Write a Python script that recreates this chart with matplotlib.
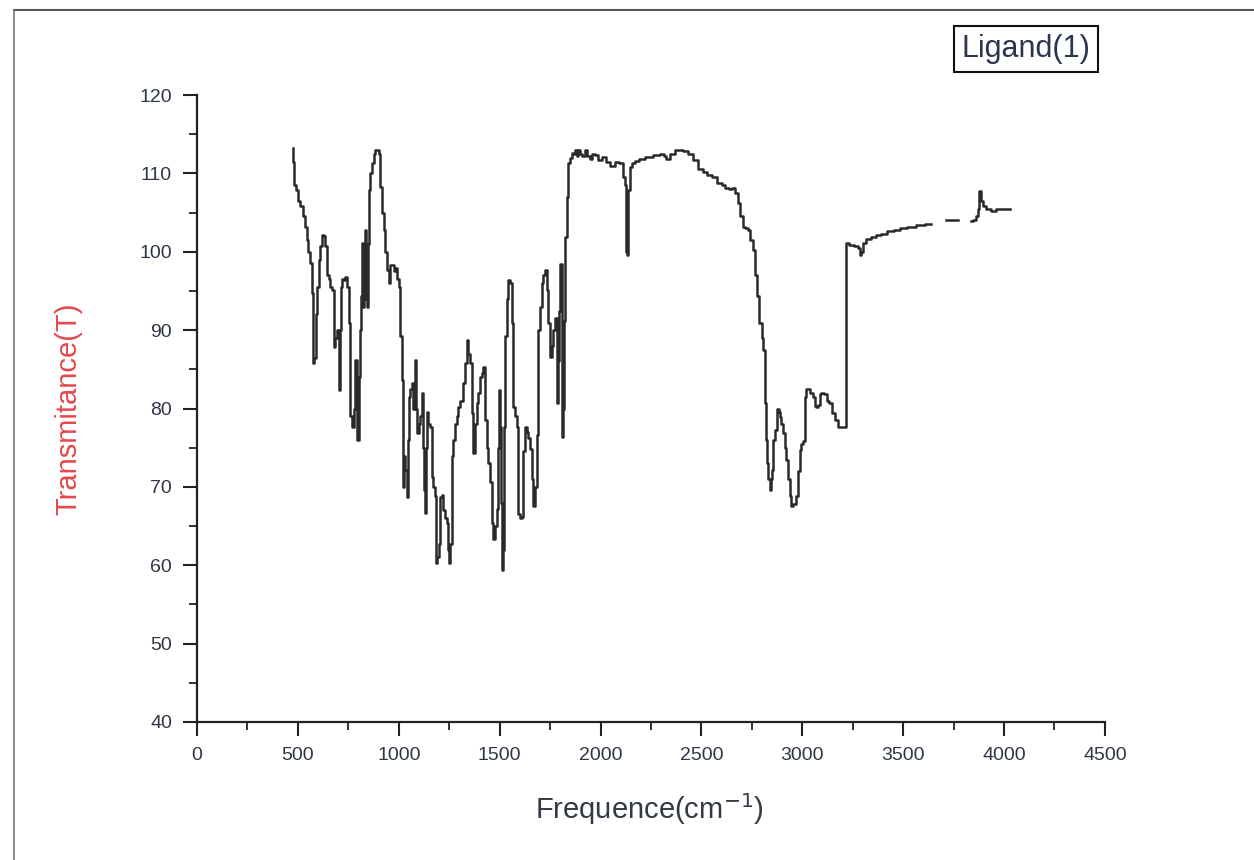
import numpy as np
import matplotlib
matplotlib.use("Agg")
import matplotlib.pyplot as plt
from matplotlib.lines import Line2D
from matplotlib.ticker import MultipleLocator

plt.rcParams['font.family'] = ['Liberation Sans', 'DejaVu Sans']

# IR spectrum of Ligand(1)
# (NaN = faded gaps in the scan near 3700 cm-1)
wavenumber = [
    475, 478, 485, 492, 505, 516, 530, 541, 549, 556, 566, 574, 576, 585, 590, 599,
    607, 615, 623, 632, 640, 648, 656, 665, 673, 681, 690, 698, 706, 710, 715, 723,
    731, 739, 747, 755, 764, 772, 780, 789, 797, 805, 810, 813, 822, 826, 830, 838,
    842, 846, 850, 855, 863, 871, 880, 888, 896, 904, 912, 920, 929, 937, 946, 954,
    962, 970, 978, 987, 995, 1003, 1011, 1020, 1022, 1030, 1036, 1044, 1048, 1053,
    1061, 1069, 1077, 1085, 1090, 1094, 1102, 1110, 1118, 1122, 1127, 1135, 1139,
    1143, 1151, 1160, 1168, 1176, 1184, 1186, 1193, 1201, 1209, 1217, 1225, 1233,
    1242, 1246, 1250, 1258, 1267, 1275, 1283, 1292, 1300, 1312, 1324, 1332, 1341,
    1349, 1357, 1366, 1374, 1382, 1390, 1399, 1407, 1415, 1423, 1432, 1440, 1448,
    1456, 1465, 1473, 1481, 1489, 1494, 1498, 1506, 1510, 1514, 1518, 1522, 1531,
    1539, 1547, 1556, 1564, 1572, 1580, 1589, 1597, 1605, 1613, 1622, 1630, 1638,
    1646, 1654, 1663, 1671, 1679, 1688, 1696, 1704, 1713, 1721, 1729, 1737, 1746,
    1754, 1762, 1770, 1779, 1787, 1791, 1795, 1803, 1812, 1816, 1820, 1828, 1836,
    1845, 1853, 1861, 1870, 1878, 1886, 1895, 1903, 1915, 1927, 1940, 1952, 1965,
    1977, 1995, 2018, 2035, 2059, 2080, 2100, 2109, 2117, 2124, 2128, 2132, 2136,
    2141, 2150, 2158, 2180, 2199, 2240, 2282, 2307, 2320, 2331, 2360, 2380, 2397,
    2420, 2447, 2470, 2496, 2520, 2540, 2562, 2590, 2610, 2628, 2645, 2661, 2675,
    2686, 2700, 2711, 2725, 2735, 2748, 2760, 2770, 2777, 2793, 2805, 2810, 2818,
    2822, 2826, 2835, 2843, 2847, 2851, 2860, 2868, 2879, 2886, 2892, 2900, 2909,
    2917, 2925, 2933, 2942, 2950, 2960, 2975, 2985, 2991, 3000, 3008, 3016, 3025,
    3033, 3045, 3058, 3066, 3074, 3082, 3090, 3100, 3115, 3128, 3140, 3156, 3170,
    3189, 3214, 3219, 3240, 3272, 3282, 3288, 3296, 3305, 3330, 3354, 3380, 3404,
    3437, 3469, 3500, 3540, 3585, 3634, 3640, 3712, 3717, 3767, 3772, 3836, 3841,
    3855, 3866, 3874, 3882, 3890, 3899, 3920, 3948, 3970, 3990, 4031,
]
transmittance = [
    113.2, 111.5, 108.5, 107.9, 106.5, 105.8, 104.5, 103.2, 101.5, 100.0, 98.6, 94.7,
    85.8, 86.5, 92, 95.5, 99, 100.7, 102.1, 102.0, 100.7, 97, 96.5, 95.5, 95.1, 87.9,
    89, 90, 82.4, 90, 95.5, 96.5, 96.4, 96.8, 95.5, 90.9, 79, 77.6, 80, 86.2, 76, 84,
    90, 94.3, 101.1, 93, 99, 102.8, 94, 93, 101, 107.9, 110, 111.3, 112.5, 113, 113,
    112.5, 108.3, 105, 102.8, 100, 97.7, 96, 98.3, 98.3, 97.5, 97.9, 96.5, 95.5, 89.2,
    83.6, 70, 74, 72.2, 68.7, 76, 81.5, 82.5, 83.2, 80, 86.2, 80, 76.9, 78, 79, 82, 75,
    69.6, 66.7, 75, 79.6, 78, 77.6, 71.3, 70, 68.8, 60.3, 61, 62.7, 68.7, 69, 67, 66,
    65.4, 62, 60.3, 62.7, 73.9, 76, 78, 79, 80.2, 81, 83.2, 85.8, 88.8, 87, 85.8, 79.4,
    74.3, 78, 80.7, 82, 84, 84.5, 85.3, 78.5, 75, 73, 70.6, 65.4, 63.3, 65, 67.2, 75,
    82.4, 77.6, 68, 59.4, 62, 77.6, 89.2, 94, 96.4, 96, 90.9, 80.2, 79, 77.6, 66.6, 66,
    66.2, 74.6, 77.6, 77, 76.2, 74.8, 71, 67.5, 70, 76.6, 90, 93, 96, 97, 97.7, 95.1,
    90.9, 86.6, 88, 90, 91.6, 80.7, 86, 92.5, 98.5, 76.4, 80, 91.2, 101.9, 107, 111.3,
    112, 112.6, 112.5, 113, 112.2, 113, 112.5, 112.2, 113, 112.2, 111.9, 112.5, 112.3,
    111.7, 112.1, 111.5, 110.9, 111.5, 111.3, 111.3, 109.6, 108.5, 100, 99.6, 104,
    107.9, 110.8, 111.3, 111.6, 111.9, 112.1, 112.3, 112.5, 112.2, 111.9, 112.5, 113,
    113, 112.8, 112.5, 111.7, 110.6, 110.2, 109.8, 109.6, 108.8, 108.5, 108.1, 108.0,
    108.1, 107.5, 106.2, 104.5, 103.2, 103, 102.8, 101.5, 100.2, 97, 94.3, 90.9, 89,
    87.5, 80.7, 76, 73, 71, 69.6, 71, 72.2, 76, 77.3, 80, 79.5, 78.9, 78, 76.9, 75,
    73.4, 71, 68.8, 67.5, 67.8, 68.8, 72, 74.7, 75.5, 75.9, 81.5, 82.5, 82.5, 82, 81.5,
    80.3, 80.2, 80.5, 81.9, 82, 81.9, 81, 80.7, 79.4, 78.5, 77.7, 77.7, 101.1, 100.9,
    100.7, 100.5, 99.6, 100, 101.1, 101.6, 101.9, 102.2, 102.3, 102.6, 102.8, 103.0,
    103.2, 103.4, 103.5, np.nan, np.nan, 104.1, 104.1, np.nan, np.nan, 103.9,
    104.1, 104.6, 105.5, 107.7, 106.5, 105.8, 105.4, 105.2, 105.4, 105.5, 105.5,
]

x_ticks = [0, 500, 1000, 1500, 2000, 2500, 3000, 3500, 4000, 4500]
y_ticks = [40, 50, 60, 70, 80, 90, 100, 110, 120]

fig = plt.figure(figsize=(12.54, 8.6), dpi=100)
ax = fig.add_axes([0.1571, 0.1605, 0.7240, 0.7290])

# scanned trace looks stair-stepped
ax.plot(wavenumber, transmittance, color='#2a2a2a', lw=1.8, drawstyle='steps-mid')

ax.set_xlim(0, 4500)
ax.set_ylim(40, 120)
ax.set_xticks(x_ticks)
ax.set_yticks(y_ticks)
ax.xaxis.set_minor_locator(MultipleLocator(250))
ax.yaxis.set_minor_locator(MultipleLocator(5))

for side in ['top', 'right']:
    ax.spines[side].set_visible(False)
for side in ['left', 'bottom']:
    ax.spines[side].set_linewidth(1.6)
    ax.spines[side].set_color('#222222')

tick_color = '#2f3745'
ax.tick_params(which='major', direction='out', length=10, width=1.5, color='#222222',
               labelsize=14, labelcolor=tick_color)
ax.tick_params(which='minor', direction='out', length=6, width=1.3, color='#222222')
ax.tick_params(axis='x', which='major', pad=8)
ax.tick_params(axis='y', which='major', pad=8)

ax.set_ylabel('Transmitance(T)', fontsize=21, color='#e5484d')
ax.yaxis.set_label_coords(-0.126, 0.5)
ax.set_xlabel('Frequence(cm$^{-1}$)', fontsize=21, color='#333a45')
ax.xaxis.set_label_coords(0.498, -0.110)

fig.text(0.8185, 0.943, 'Ligand(1)', fontsize=22, color='#2c3550', ha='center', va='center',
         bbox=dict(boxstyle='square,pad=0.25', facecolor='white', edgecolor='#111111', lw=1.5))

# scan frame around the figure
fig.add_artist(Line2D([14 / 1254, 1.0], [1 - 10 / 860, 1 - 10 / 860], color='#555555', lw=1.5))
fig.add_artist(Line2D([14 / 1254, 14 / 1254], [0.0, 1 - 10 / 860], color='#777777', lw=1.2))

fig.savefig('out.png', dpi=100)
